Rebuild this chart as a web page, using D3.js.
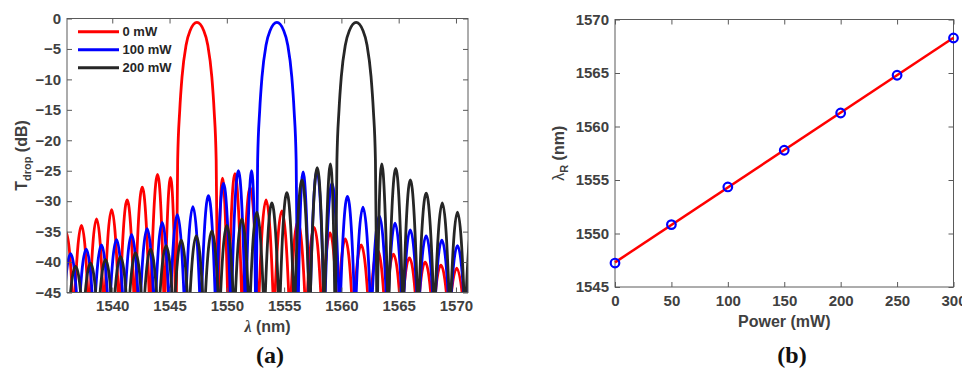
<!DOCTYPE html>
<html>
<head>
<meta charset="utf-8">
<script src="https://cdn.jsdelivr.net/npm/d3@7"></script>
<style>
  body { margin: 0; background: #fff; }
  svg text { font-family: "Liberation Sans", Arial, sans-serif; font-weight: bold; }
  .axis text { fill: #404040; font-size: 15px; }
  .axis line { stroke: #5a5a5a; }
  .label { fill: #404040; font-size: 16px; }
  .caption { font-family: "Liberation Serif", "Times New Roman", serif !important; font-size: 24px; fill: #111; }
</style>
</head>
<body>
<svg width="962" height="371"></svg>
<script>
// ---------- (a) drop port spectra ----------
var names = ["0 mW", "100 mW", "200 mW"];
var colors = ["#ff0000", "#0000ff", "#262626"];
var mainPeak = [1547.39, 1554.37, 1561.29];

// side lobe peaks [lambda (nm), T (dB)]
var lobes0 = [[1535.95,-35.0],[1537.32,-34.0],[1538.63,-32.9],[1539.94,-31.4],[1541.31,-29.8],
  [1542.61,-27.7],[1543.98,-25.6],[1545.12,-26.1],
  [1549.57,-26.2],[1550.68,-25.5],[1552.03,-27.8],[1553.43,-29.8],[1554.80,-31.6],[1556.20,-33.3],
  [1557.62,-34.3],[1559.02,-35.2],[1560.33,-36.2],[1561.72,-37.2],[1563.16,-38.0],[1564.54,-38.7],
  [1565.94,-39.3],[1567.31,-40.0],[1568.68,-40.5],[1570.07,-41.0],[1571.45,-41.5]];
var lobes100 = [[1535.00,-39.3],[1536.36,-38.6],[1537.73,-37.9],[1539.06,-37.2],[1540.37,-36.3],
  [1541.68,-35.5],[1543.05,-34.5],[1544.36,-33.5],[1545.67,-32.2],[1547.04,-30.9],[1548.40,-29.1],
  [1549.71,-27.1],[1551.02,-25.0],[1552.24,-25.0],
  [1556.60,-25.2],[1557.86,-25.0],[1559.17,-27.1],[1560.53,-29.2],[1561.87,-31.0],[1563.32,-32.4],
  [1564.69,-33.6],[1566.00,-34.7],[1567.40,-35.7],[1568.77,-36.4],[1570.13,-37.3],[1571.50,-38.0]];
var lobes200 = [[1535.50,-41.2],[1536.80,-40.7],[1538.10,-40.2],[1539.41,-39.6],[1540.72,-39.1],
  [1542.03,-38.5],[1543.34,-37.9],[1544.71,-37.3],[1546.02,-36.4],[1547.33,-35.7],[1548.70,-34.9],
  [1550.00,-34.0],[1551.31,-32.9],[1552.62,-31.8],[1553.93,-30.3],[1555.24,-28.6],[1556.55,-26.5],
  [1557.91,-24.5],[1559.10,-23.9],
  [1563.44,-23.9],[1564.75,-24.6],[1566.00,-26.5],[1567.40,-28.7],[1568.82,-30.3],[1570.13,-31.8],
  [1571.45,-33.2]];
var allLobes = [lobes0, lobes100, lobes200];

// main lobe shape: offset from its peak (nm) and level (dB)
var mainOffset = [-1.86,-1.79,-1.68,-1.5,-1.3,-0.95,-0.6,0,0.6,0.95,1.3,1.5,1.68,1.79,1.86];
var mainLevel  = [-60,-45,-23.2,-15.1,-9.6,-4.4,-2.0,-0.65,-2.0,-4.4,-9.6,-15.1,-23.2,-45,-60];
var mainHalf = 1.84;

var xTicksA = [1540, 1545, 1550, 1555, 1560, 1565, 1570];
var yTicksA = [0, -5, -10, -15, -20, -25, -30, -35, -40, -45];

// ---------- (b) resonance vs power ----------
var power = [0, 50, 100, 150, 200, 250, 300];
var lambdaR = [1547.24, 1550.83, 1554.35, 1557.78, 1561.26, 1564.79, 1568.27];
var fitPower = [0, 300];
var fitLambda = [1547.3, 1568.3];
var xTicksB = [0, 50, 100, 150, 200, 250, 300];
var yTicksB = [1545, 1550, 1555, 1560, 1565, 1570];

var svg = d3.select("svg");

var xa = d3.scaleLinear().domain([1536.05, 1571.05]).range([67, 468]);
var ya = d3.scaleLinear().domain([-45, 0]).range([292.5, 18.5]);
var xb = d3.scaleLinear().domain([0, 300]).range([615, 953.5]);
var yb = d3.scaleLinear().domain([1545, 1570]).range([287, 19.5]);

function boxAxes(x, y, xt, yt) {
  var g = svg.append("g");
  var x0 = x.range()[0], x1 = x.range()[1], y0 = y.range()[0], y1 = y.range()[1];
  var fmt = d3.format("d");
  g.append("g").attr("class", "axis").attr("transform", "translate(0," + y0 + ")")
    .call(d3.axisBottom(x).tickValues(xt).tickFormat(fmt).tickSizeInner(-5).tickSizeOuter(0).tickPadding(8));
  g.append("g").attr("class", "axis").attr("transform", "translate(0," + y1 + ")")
    .call(d3.axisTop(x).tickValues(xt).tickSizeInner(-5).tickSizeOuter(0).tickFormat(""));
  g.append("g").attr("class", "axis").attr("transform", "translate(" + x0 + ",0)")
    .call(d3.axisLeft(y).tickValues(yt).tickFormat(fmt).tickSizeInner(-5).tickSizeOuter(0).tickPadding(6));
  g.append("g").attr("class", "axis").attr("transform", "translate(" + x1 + ",0)")
    .call(d3.axisRight(y).tickValues(yt).tickSizeInner(-5).tickSizeOuter(0).tickFormat(""));
  g.selectAll(".domain").remove();
  g.append("rect")
    .attr("x", x0).attr("y", y1).attr("width", x1 - x0).attr("height", y0 - y1)
    .style("fill", "none").style("stroke", "#5a5a5a").style("stroke-width", 1);
  return g;
}

// ----- panel (a)
svg.append("clipPath").attr("id", "clipA").append("rect")
  .attr("x", xa.range()[0]).attr("y", ya.range()[1])
  .attr("width", xa.range()[1] - xa.range()[0]).attr("height", ya.range()[0] - ya.range()[1]);

var plotA = svg.append("g").attr("clip-path", "url(#clipA)");
var floor = -50;  // level where the side lobe arches meet (below the axis)

allLobes.forEach(function (lobes, k) {
  var peak = mainPeak[k];
  var pts = lobes.map(function (d) { return { x: d[0], y: d[1] }; });
  pts.push({ x: peak, main: true });
  pts.sort(function (a, b) { return a.x - b.x; });

  var p = d3.path();
  pts.forEach(function (d, i) {
    if (d.main) return;
    var prev = pts[i - 1], next = pts[i + 1];
    var x0 = !prev ? d.x - (next.x - d.x) / 2 : prev.main ? prev.x + mainHalf : (prev.x + d.x) / 2;
    var x1 = !next ? d.x + (d.x - prev.x) / 2 : next.main ? next.x - mainHalf : (d.x + next.x) / 2;
    p.moveTo(xa(x0), ya(floor));
    p.quadraticCurveTo(xa(d.x), ya(2 * d.y - floor), xa(x1), ya(floor));
  });

  var g = plotA.append("g")
    .style("fill", "none").style("stroke", colors[k]).style("stroke-width", 2.8)
    .style("stroke-linejoin", "round");
  g.append("path").attr("d", p.toString());
  g.append("path").attr("d", d3.line()
    .curve(d3.curveMonotoneX)
    .x(function (d, i) { return xa(peak + d); })
    .y(function (d, i) { return ya(mainLevel[i]); })
    (mainOffset));
});

boxAxes(xa, ya, xTicksA, yTicksA);

// legend
var legend = svg.append("g");
names.forEach(function (n, i) {
  var ly = 31.7 + i * 18;
  legend.append("line").attr("x1", 78).attr("x2", 119).attr("y1", ly).attr("y2", ly)
    .style("stroke", colors[i]).style("stroke-width", 3);
  legend.append("text").attr("x", 122.5).attr("y", ly).attr("dy", "0.36em")
    .style("font-size", "13px").style("fill", "#262626").text(n);
});

// axis labels (a)
var yl = svg.append("text").attr("class", "label")
  .attr("transform", "translate(26.5," + (ya.range()[0] + ya.range()[1]) / 2 + ") rotate(-90)")
  .attr("text-anchor", "middle");
yl.append("tspan").text("T");
yl.append("tspan").attr("dy", 4).style("font-size", "11px").text("drop");
yl.append("tspan").attr("dy", -4).text(" (dB)");

var xl = svg.append("text").attr("class", "label")
  .attr("x", (xa.range()[0] + xa.range()[1]) / 2).attr("y", 332).attr("text-anchor", "middle");
xl.append("tspan").style("font-style", "italic").style("font-family", "'Liberation Serif', serif").text("λ");
xl.append("tspan").text(" (nm)");

svg.append("text").attr("class", "caption").attr("x", 270).attr("y", 363)
  .attr("text-anchor", "middle").text("(a)");

// ----- panel (b)
boxAxes(xb, yb, xTicksB, yTicksB);

svg.append("path")
  .attr("d", d3.line()
    .x(function (d) { return xb(d); })
    .y(function (d, i) { return yb(fitLambda[i]); })
    (fitPower))
  .style("fill", "none").style("stroke", "#ff0000").style("stroke-width", 2.5);

svg.append("g").selectAll("circle")
  .data(power)
  .enter()
  .append("circle")
  .attr("cx", function (d) { return xb(d); })
  .attr("cy", function (d, i) { return yb(lambdaR[i]); })
  .attr("r", 4.3)
  .style("fill", "none").style("stroke", "#0000ff").style("stroke-width", 2.2);

var yl2 = svg.append("text").attr("class", "label")
  .attr("transform", "translate(564," + (yb.range()[0] + yb.range()[1]) / 2 + ") rotate(-90)")
  .attr("text-anchor", "middle");
yl2.append("tspan").style("font-weight", "normal").text("λ");
yl2.append("tspan").attr("dy", 4).style("font-size", "11px").text("R");
yl2.append("tspan").attr("dy", -4).text(" (nm)");

svg.append("text").attr("class", "label")
  .attr("x", (xb.range()[0] + xb.range()[1]) / 2).attr("y", 327)
  .attr("text-anchor", "middle").text("Power (mW)");

svg.append("text").attr("class", "caption").attr("x", 792).attr("y", 363)
  .attr("text-anchor", "middle").text("(b)");
</script>
</body>
</html>
